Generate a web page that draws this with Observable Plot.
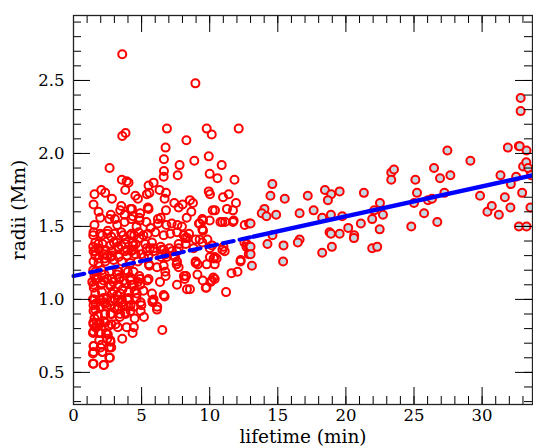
<!DOCTYPE html>
<html><head><meta charset="utf-8">
<script src="https://cdn.jsdelivr.net/npm/d3@7"></script>
<script src="https://cdn.jsdelivr.net/npm/@observablehq/plot@0.6"></script>
<style>body{margin:0;background:#fff}</style>
</head><body><div id="chart"></div>
<script>
// [lifetime (min), radius (Mm)] — events shorter than ~13 min
const shortLived = [
[3.58,2.68],[8.95,2.48],[3.58,2.12],[3.82,2.14],[6.86,2.17],[9.78,2.17],[10.15,2.13],[12.13,2.17],[8.29,2.09],[6.76,2.04],
[6.64,1.96],[7.79,1.92],[8.87,1.95],[9.93,1.98],[10.88,1.92],[2.65,1.90],[6.64,1.88],[6.62,1.84],[7.65,1.85],[10.0,1.86],
[10.57,1.83],[11.82,1.82],[3.55,1.82],[3.9,1.81],[4.04,1.80],[5.88,1.80],[5.51,1.78],[3.8,1.75],[6.32,1.75],[6.79,1.73],
[1.54,1.72],[2.04,1.75],[2.33,1.73],[2.82,1.69],[4.54,1.71],[4.73,1.69],[5.39,1.72],[5.57,1.73],[6.69,1.69],[9.93,1.74],
[10.02,1.72],[11.4,1.72],[10.98,1.70],[11.93,1.66],[8.55,1.68],[8.77,1.66],[8.65,1.60],[8.31,1.56],[1.47,1.65],[7.4,1.66],
[7.72,1.63],[8.01,1.65],[5.46,1.63],[6.79,1.61],[1.84,1.60],[1.96,1.56],[2.74,1.58],[2.63,1.55],[3.51,1.64],[3.43,1.61],
[3.75,1.58],[4.29,1.62],[4.36,1.57],[4.83,1.56],[1.54,1.51],[4.19,1.62],[4.9,1.59],[5.51,1.62],[6.4,1.56],[3.04,1.55],
[3.21,1.51],[3.75,1.53],[4.24,1.55],[4.63,1.50],[4.85,1.54],[5.35,1.53],[5.66,1.49],[6.2,1.55],[6.2,1.52],[6.82,1.51],
[7.21,1.52],[7.63,1.51],[7.96,1.50],[9.26,1.52],[9.51,1.54],[10.0,1.54],[10.93,1.53],[11.71,1.53],[12.57,1.51],[10.22,1.61],
[10.39,1.61],[11.27,1.62],[11.71,1.61],[11.76,1.54],[10.79,1.53],[11.13,1.53],[9.46,1.55],[9.21,1.52],[9.46,1.48],[12.89,1.52],
[9.51,1.47],[8.48,1.45],[8.97,1.41],[8.21,1.42],[8.36,1.42],[8.24,1.38],[9.26,1.41],[9.46,1.39],[8.82,1.35],[11.01,1.36],
[11.1,1.33],[10.0,1.35],[12.72,1.38],[12.87,1.36],[12.87,1.31],[10.02,1.29],[10.29,1.28],[10.51,1.28],[8.97,1.25],[9.12,1.24],
[9.78,1.24],[10.37,1.24],[12.26,1.26],[11.6,1.18],[12.04,1.19],[9.1,1.17],[8.26,1.16],[10.15,1.13],[10.07,1.12],[9.49,1.13],
[9.76,1.08],[8.55,1.07],[11.2,1.05],[12.28,1.27],[12.55,1.39],[12.7,1.36],[9.83,1.41],[10.17,1.37],[10.93,1.34],[10.37,1.29],
[10.27,1.15],[10.37,1.14],[9.71,1.08],[8.11,1.16],[8.16,1.14],[8.97,1.26],[8.33,1.07],[7.6,1.10],
[1.45,1.44],[2.11,1.44],[1.82,1.38],[1.45,1.36],[1.6,1.33],[1.86,1.34],[2.48,1.45],[2.77,1.43],[2.96,1.39],[3.26,1.36],
[3.65,1.44],[3.82,1.41],[4.26,1.45],[4.46,1.44],[4.83,1.42],[5.13,1.44],[3.51,1.37],[2.72,1.29],[1.86,1.28],[2.48,1.30],
[2.3,1.28],[3.95,1.34],[4.24,1.33],[4.39,1.37],[4.56,1.38],[5.37,1.35],[5.61,1.35],[5.86,1.33],[6.4,1.36],[6.64,1.34],
[7.04,1.35],[7.6,1.33],[7.45,1.29],[4.98,1.31],[5.17,1.29],[5.54,1.24],[6.42,1.29],[6.84,1.29],[7.57,1.24],
[1.47,1.46],[1.96,1.45],[2.52,1.47],[3.01,1.45],[3.51,1.46],[4.17,1.44],[4.78,1.46],[5.46,1.45],[6.0,1.46],[6.62,1.44],[7.11,1.45],[7.6,1.46],[8.09,1.44],
[1.6,1.39],[2.13,1.38],[2.7,1.37],[3.18,1.39],[3.8,1.38],[4.34,1.39],[5.27,1.38],[5.76,1.39],[7.72,1.38],
[1.47,1.33],[1.84,1.35],[2.33,1.34],[2.82,1.33],[3.31,1.35],[3.8,1.33],[4.41,1.34],[5.39,1.33],[5.88,1.35],[6.49,1.34],[7.23,1.33],[7.72,1.35],
[1.6,1.30],[2.28,1.31],[2.82,1.30],[3.31,1.29],[3.92,1.30],[4.54,1.31],[5.51,1.30],[6.79,1.31],[7.35,1.30],
[1.47,1.26],[1.84,1.25],[2.33,1.26],[2.94,1.27],[3.55,1.26],[4.17,1.25],[4.73,1.26],[7.6,1.26],
[5.57,1.23],[6.13,1.22],[6.62,1.23],[7.72,1.22],
[1.6,1.19],[2.08,1.20],[2.63,1.19],[3.31,1.19],[3.8,1.20],[4.41,1.19],[6.74,1.19],
[1.6,1.14],[2.21,1.13],[2.82,1.14],[3.36,1.14],[4.17,1.13],[4.9,1.14],[5.51,1.14],
[1.47,1.10],[2.08,1.11],[2.7,1.10],[3.31,1.10],[3.8,1.11],[4.29,1.10],[4.9,1.10],
[1.6,1.04],[2.08,1.05],[2.82,1.04],[3.43,1.04],[4.04,1.05],[4.65,1.04],[5.76,1.04],[6.62,1.03],
[1.54,1.00],[2.21,1.01],[3.01,1.00],[3.55,1.00],[4.04,1.01],[5.88,1.00],
[1.45,1.20],[1.54,1.16],[1.38,1.12],[1.49,1.08],[1.79,1.14],[2.04,1.10],[2.28,1.17],[2.48,1.14],[2.72,1.09],[2.92,1.12],
[2.96,1.06],[3.21,1.17],[3.4,1.15],[3.7,1.13],[3.6,1.07],[3.99,1.19],[4.19,1.15],[4.43,1.10],[4.49,1.06],[4.83,1.16],
[4.73,1.12],[5.13,1.06],[5.42,1.13],[6.69,1.02],[6.35,1.12],[6.76,1.16],
[1.43,1.00],[1.62,0.97],[1.93,1.00],[2.23,0.98],[2.48,1.01],[2.85,0.99],[3.21,1.03],[3.26,1.00],[3.58,0.98],[3.95,1.00],
[4.19,0.96],[4.63,1.01],[4.93,0.98],[5.79,0.99],[6.15,0.95],[1.47,0.92],[1.74,0.89],[1.45,0.84],[1.93,0.84],[1.69,0.81],
[2.43,0.95],[2.72,0.90],[2.23,0.85],[2.6,0.82],[3.21,0.93],[3.4,0.88],[3.09,0.83],[3.82,0.90],[4.19,0.92],[4.49,0.87],
[4.93,0.92],[5.17,0.88],[3.9,0.81],[4.43,0.81],[3.58,0.73],[6.52,0.79],[1.43,0.77],[1.86,0.77],[1.49,0.68],[1.99,0.67],
[2.4,0.77],[2.48,0.73],[2.72,0.71],[2.77,0.67],[1.43,0.63],[2.11,0.64],[2.67,0.60],[1.43,0.56],[2.23,0.55],
[1.47,0.96],[1.6,0.93],[1.96,0.95],[2.33,0.97],[2.7,0.96],[3.01,0.94],[3.31,0.95],[3.68,0.96],[4.04,0.95],[4.41,0.95],
[4.98,0.96],[5.81,0.98],[6.13,0.93],[3.8,0.91],[3.43,0.90],[2.82,0.90],[2.33,0.90],[1.79,0.89],[1.54,0.87],[1.47,0.83],
[1.6,0.81],[1.89,0.83],[2.33,0.84],[2.77,0.83],[3.26,0.81],[4.34,0.77],[1.47,0.78],[2.01,0.77],[2.52,0.76],[2.7,0.72],
[1.89,0.72],[1.47,0.68],[2.08,0.69],[2.63,0.67],[1.47,0.64],[2.13,0.64],[2.63,0.60],[1.47,0.56],[2.21,0.55]
];
// events longer than ~13 min
const longLived = [
[13.0,1.52],[13.0,1.36],[13.0,1.31],[13.1,1.23],[14.6,1.79],[14.46,1.71],[14.02,1.62],[13.82,1.59],[14.17,1.57],[14.88,1.58],
[14.61,1.44],[14.24,1.38],[15.51,1.69],[15.42,1.37],[15.39,1.26],[16.6,1.59],[16.6,1.41],[16.47,1.39],[17.2,1.71],[17.63,1.61],
[18.46,1.75],[18.92,1.72],[18.68,1.68],[19.54,1.74],[18.26,1.56],[18.9,1.58],[19.73,1.57],[18.8,1.46],[18.9,1.45],[19.54,1.45],
[18.97,1.36],[18.26,1.32],[20.17,1.49],[20.61,1.44],[20.59,1.42],[21.1,1.52],[21.32,1.73],[21.93,1.55],[22.08,1.61],[22.5,1.66],
[22.72,1.58],[22.48,1.48],[21.93,1.35],[22.3,1.36],[23.33,1.87],[23.53,1.89],[23.33,1.82],[24.8,1.50],[25.0,1.66],[25.22,1.73],
[25.1,1.82],[25.74,1.59],[26.03,1.68],[26.32,1.69],[26.47,1.90],[26.91,1.83],[27.23,1.73],[26.71,1.53],[27.45,2.02],[27.67,1.85],
[29.14,1.95],[29.85,1.71],[30.39,1.60],[30.71,1.64],[31.23,1.58],[31.35,1.85],[31.67,1.70],[32.08,1.63],[32.11,1.79],[31.89,2.04],
[32.5,1.84],[32.7,2.05],[32.94,1.73],[32.7,1.50],[33.26,1.50],[33.01,1.91],[33.24,1.94],[33.26,2.02],[32.83,2.29],[32.83,2.38],
[33.55,1.63],[33.55,1.88],[33.38,1.90],[33.6,1.85],[32.76,2.05]
];
// linear fit: dashed over the short-lived range, solid over the long-lived range
const fitDashed = [[0,1.16],[13.2,1.43]];
const fitSolid = [[13.2,1.43],[33.7,1.85]];

const xMajor = [0,5,10,15,20,25,30];
const yMajor = [0.5,1.0,1.5,2.0,2.5];
const xMinor = d3.range(0,34);
const yMinor = d3.range(3,30).map(i => i/10);

const W = 533, H = 448, ML = 73, MR = 1, MT = 15, MB = 44;
const plotW = W - ML - MR, plotH = H - MT - MB;
const font = "DejaVu Serif";
const tk = {stroke: "#000", strokeWidth: 1};
// inward tick marks on all four sides
const xTicks = (vals, len) => [
  Plot.tickX(vals, {x: d => d, insetTop: plotH - len, ...tk}),
  Plot.tickX(vals, {x: d => d, insetBottom: plotH - len, ...tk})
];
const yTicks = (vals, len) => [
  Plot.tickY(vals, {y: d => d, insetRight: plotW - len, ...tk}),
  Plot.tickY(vals, {y: d => d, insetLeft: plotW - len, ...tk})
];

const chart = Plot.plot({
  width: W, height: H,
  marginLeft: ML, marginRight: MR, marginTop: MT, marginBottom: MB,
  style: {fontFamily: font, background: "#fff", color: "#000"},
  x: {domain: [0, 33.7]},
  y: {domain: [0.28, 2.945]},
  marks: [
    Plot.dot(shortLived, {x: d => d[0], y: d => d[1], r: 4, stroke: "#ff0000", strokeWidth: 2, fill: "none"}),
    Plot.dot(longLived, {x: d => d[0], y: d => d[1], r: 4, stroke: "#ff0000", strokeWidth: 2, fill: "#c4d8e2"}),
    Plot.line(fitDashed, {x: d => d[0], y: d => d[1], stroke: "#0000ff", strokeWidth: 4, strokeDasharray: "11,6"}),
    Plot.line(fitSolid, {x: d => d[0], y: d => d[1], stroke: "#0000ff", strokeWidth: 4.5}),
    ...xTicks(xMinor, 8), ...xTicks(xMajor, 17),
    ...yTicks(yMinor, 8), ...yTicks(yMajor, 17),
    Plot.axisX(xMajor, {anchor: "bottom", tickSize: 0, tickPadding: 5, fontSize: 16.5, fill: "#000",
      label: "lifetime (min)", labelAnchor: "center", labelArrow: "none", labelOffset: 38}),
    Plot.axisY(yMajor, {anchor: "left", tickSize: 0, tickPadding: 9, fontSize: 16.5, fill: "#000",
      tickFormat: d3.format(".1f"),
      label: "radii (Mm)", labelAnchor: "center", labelArrow: "none", labelOffset: 62}),
    Plot.frame({stroke: "#222", strokeWidth: 1.3})
  ]
});
chart.querySelectorAll("g[aria-label='x-axis label'] text, g[aria-label='y-axis label'] text").forEach(t => t.style.fontSize = "18.5px");
document.getElementById("chart").appendChild(chart);
</script>
</body></html>
